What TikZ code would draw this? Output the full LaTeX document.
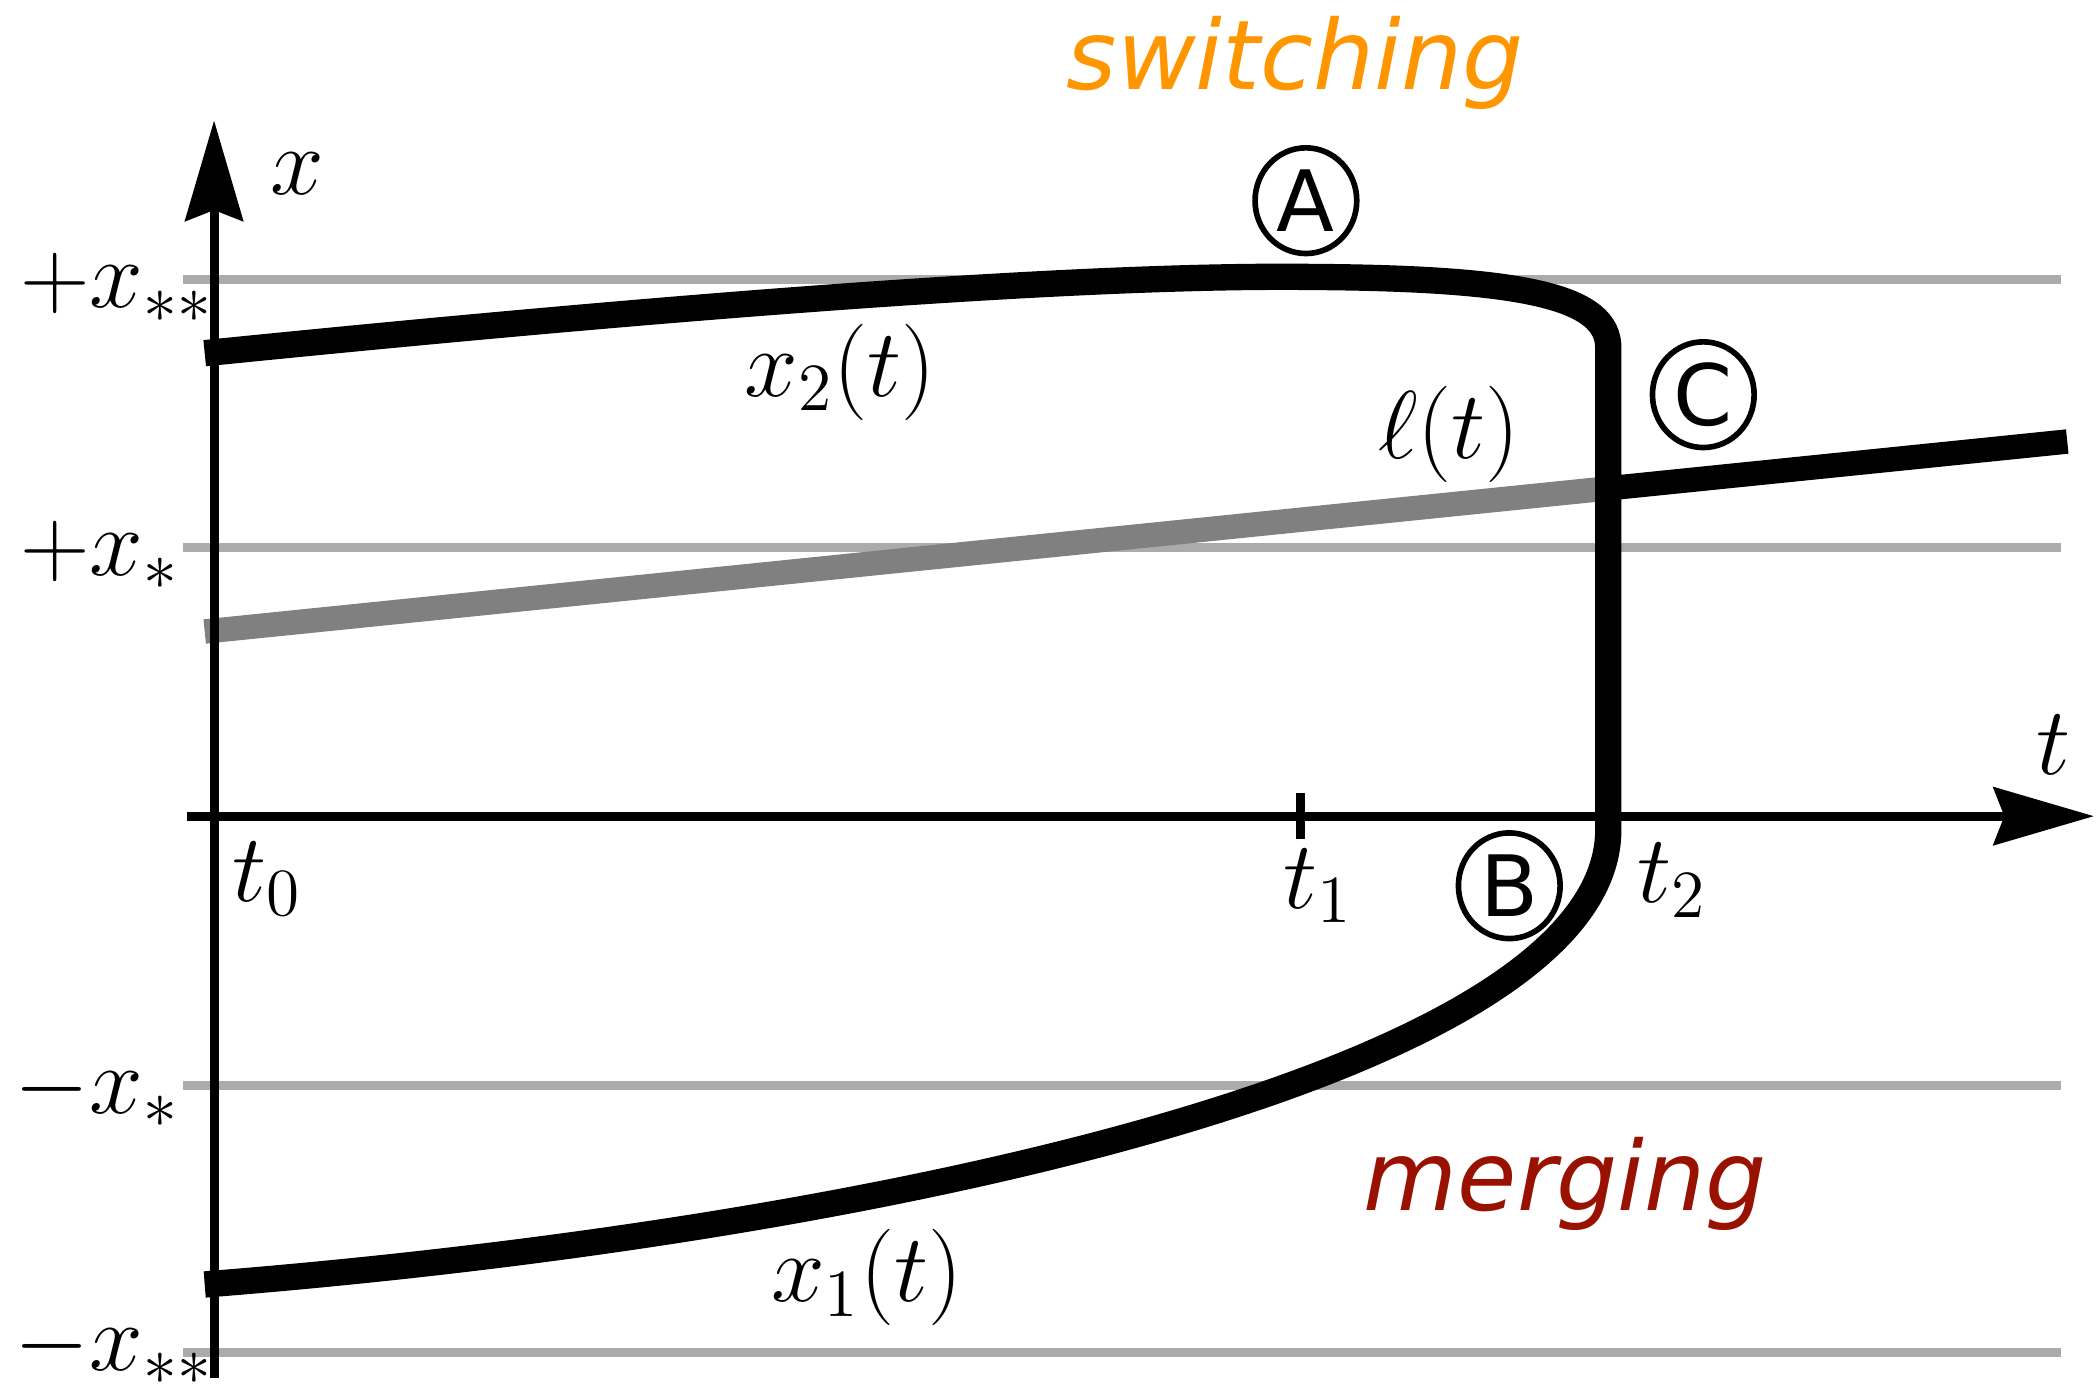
\documentclass[tikz,border=0pt]{standalone}
\usepackage{fix-cm}
\usepackage{fontspec}
\newfontfamily\dejavu{DejaVu Sans}
\usetikzlibrary{arrows.meta,shapes.geometric}
\definecolor{switchorange}{RGB}{255,150,0}
\definecolor{mergered}{RGB}{153,17,0}

\begin{document}
\begin{tikzpicture}[
  axis/.style={line width=1.9pt,
    -{Stealth[length=0.75cm, width=0.43cm, inset=0.08cm]}},
  level/.style={line width=1.9pt, black!33},
  traj/.style={line width=5.6pt, black},
  thresh/.style={line width=5.2pt},
  lbl/.style={inner sep=0pt, font=\fontsize{20.5}{24}\selectfont},
  tag/.style={ellipse, draw, line width=1.2pt, inner sep=0pt,
    minimum width=0.76cm, minimum height=0.79cm,
    font=\dejavu\fontsize{18}{21}\selectfont},
  regime/.style={font=\dejavu\itshape\fontsize{20.5}{24}\selectfont},
]
\useasboundingbox (-1.60, -4.27) rectangle (14.08, 6.10);

% Level spacing
\def\xs{2.01}
\def\xss{4.01}

% Level lines
\draw[level] (-0.23, \xss) -- (13.8, \xss);
\draw[level] (-0.23, \xs) -- (13.8, \xs);
\draw[level] (-0.23, -\xs) -- (13.8, -\xs);
\draw[level] (-0.23, -\xss) -- (13.8, -\xss);

% Level labels
\node[lbl, anchor=base east] (pxss) at (0.0, 3.80) {$+x_{**}$};
\node[lbl, anchor=base east] (pxs) at (-0.25, 1.80) {$+x_{*}$};
\node[lbl, anchor=base east] (mxs) at (-0.25, -2.22) {$-x_{*}$};
\node[lbl, anchor=base east] (mxss) at (0.0, -4.14) {$-x_{**}$};

% Threshold l(t): gray before t2, black after
\draw[thresh, black!50] (-0.07, 1.38) -- (10.42, 2.45);
\draw[thresh, black] (10.42, 2.45) -- (13.85, 2.80);

% Trajectories x2(t) and x1(t)
\draw[traj] (-0.07, 3.46) .. controls (3.5, 3.82) and (6.5, 4.05) .. (8.2, 4.03)
  .. controls (9.8, 4.02) and (10.42, 3.88) .. (10.42, 3.5)
  -- (10.42, -0.1)
  .. controls (10.42, -1.9) and (5, -3.1) .. (-0.07, -3.5);

% Axes
\draw[axis] (0, -4.2) -- (0, 5.2);
\draw[axis] (-0.2, 0) -- (14.05, 0);
\draw[line width=1.9pt] (8.12, 0.17) -- (8.12, -0.17);

% Axis labels
\node[lbl] (xlab) at (0.62, 4.80) {$x$};
\node[lbl] (tlab) at (13.75, 0.53) {$t$};
\node[lbl] (tzero) at (0.40, -0.47) {$t_0$};
\node[lbl] (tone) at (8.25, -0.52) {$t_1$};
\node[lbl] (ttwo) at (10.90, -0.48) {$t_2$};

% Curve labels
\node[lbl] (xtwo) at (4.68, 3.32) {$x_2(t)$};
\node[lbl] (xone) at (4.88, -3.45) {$x_1(t)$};
\node[lbl] (ell) at (9.23, 2.85) {$\ell(t)$};

% Marked points
\node[tag] (tagA) at (8.16, 4.60) {A};
\node[tag] (tagB) at (9.68, -0.52) {B};
\node[tag] (tagC) at (11.13, 3.15) {C};

% Regimes
\node[regime, text=switchorange] (switching) at (8.08, 5.63) {switching};
\node[regime, text=mergered] (merging) at (10.10, -2.75) {merging};

\end{tikzpicture}
\end{document}
